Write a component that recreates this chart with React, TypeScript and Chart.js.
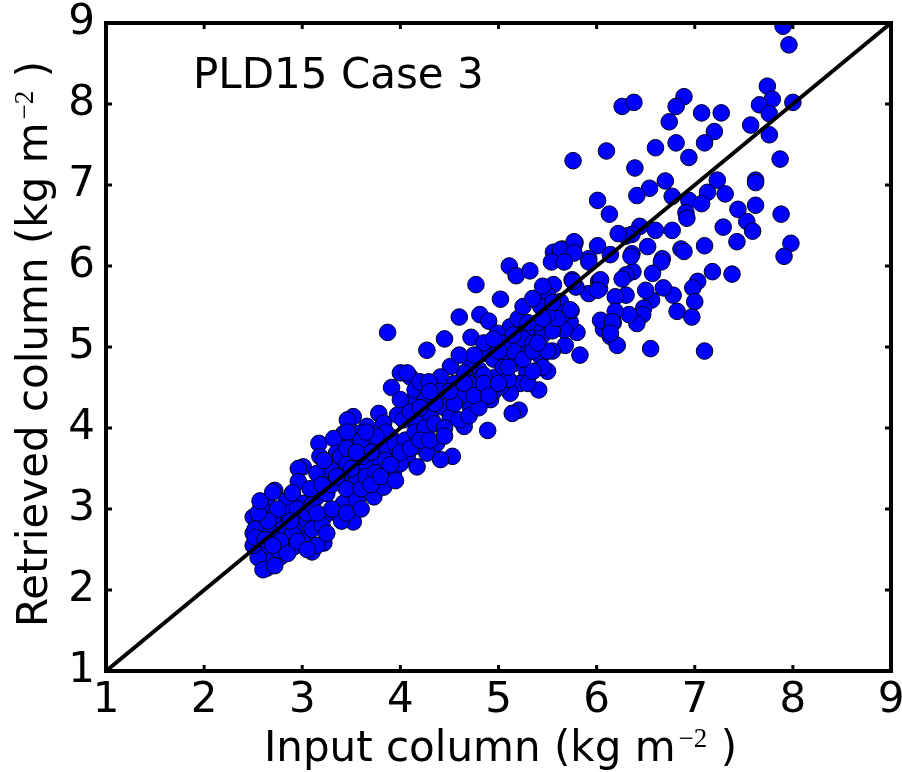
import React, { useEffect, useRef } from "react";
import { Chart, registerables } from "chart.js";

Chart.register(...registerables);

// ---- data ----
const inputColumn: number[] = [
  7.90, 7.96, 7.74, 7.79, 7.66, 8.00, 7.76, 7.57, 7.76, 7.87,
  6.26, 6.38, 6.89, 6.81, 6.74, 7.07, 7.27, 7.20, 7.10, 6.81,
  6.94, 6.60, 5.76, 6.10, 6.39, 6.70, 6.54, 6.41, 7.23, 7.62,
  7.62, 7.13, 7.31, 6.77, 6.94, 7.07, 6.91, 6.92, 6.01, 6.13,
  7.44, 7.62, 7.88, 7.53, 7.59, 7.29, 7.43, 7.98, 7.91, 6.77,
  6.60, 6.44, 6.36, 6.30, 6.22, 6.52, 6.36, 6.67, 6.86, 7.10,
  6.01, 5.78, 5.65, 5.92, 6.14,
  6.89, 7.18, 7.38, 7.03, 6.98, 7.00, 6.97, 6.82, 6.78, 6.68,
  6.66, 6.57, 6.56, 6.50, 6.48, 6.47, 6.41, 6.37, 6.35, 6.30,
  6.30, 6.26, 6.33, 6.19, 6.19, 6.17, 6.06, 6.07, 6.14, 6.21,
  6.55, 7.10, 5.83, 5.68, 5.80, 5.73, 5.74, 6.02, 6.03, 5.92,
  5.92, 5.77, 5.65, 5.75, 5.79, 5.63, 5.63,
  4.77, 5.02, 5.11, 5.18, 5.32, 4.60, 4.81, 4.90, 4.45, 4.72,
  4.27, 5.56, 5.63, 5.77, 5.77, 5.54, 5.67, 6.04, 6.01, 5.76,
  5.56, 5.50, 5.43, 5.58, 5.73, 5.67, 6.04, 6.16, 6.14, 5.36,
  5.29, 5.12, 4.99, 5.07, 5.17, 5.29, 5.43, 5.50, 5.41, 5.29,
  5.22, 5.12, 5.21, 5.02, 4.97, 4.83, 4.80, 4.88, 4.71, 4.65,
  4.51, 4.61, 4.41, 4.24, 4.10, 4.00, 4.14, 4.31, 4.48, 4.71,
  4.92, 5.14, 4.89,
  3.87, 3.91, 4.07, 4.15, 4.20, 4.29, 4.00, 3.97, 3.78, 3.52,
  3.46, 3.42, 3.17, 3.32, 3.01, 3.18, 3.35, 3.52, 3.66, 3.83,
  3.90, 4.03, 4.17, 4.31, 4.41, 4.51, 4.61, 4.65, 4.53, 4.37,
  4.27, 4.14, 4.07, 3.97, 3.80, 3.66, 3.59, 3.42, 3.25, 3.93,
  4.17, 4.41,
  2.96, 2.96, 2.72, 2.59, 2.50, 2.50, 2.54, 2.64, 2.66, 3.52,
  3.22, 3.10, 3.05, 2.91, 2.78, 2.64, 2.84, 3.00, 3.15, 3.25,
  3.12, 2.94, 2.78, 2.67, 2.55, 2.81, 3.05, 3.22, 3.35, 3.42,
  3.56, 3.73, 3.69, 3.83, 3.56, 3.39, 3.29, 3.15, 3.22, 3.39,
  3.46, 3.62, 3.73, 3.86, 3.69, 3.56, 3.46, 4.00, 3.80,
  2.52, 2.55, 2.58, 2.62, 2.70, 2.75, 2.60, 2.65, 2.58, 2.70,
  2.80, 2.90, 2.85, 2.95, 3.00, 3.10, 3.20, 3.15, 2.55, 2.50,
  2.52, 2.68, 2.78, 2.88, 2.60, 2.72, 2.62, 2.70, 2.85, 2.95,
  3.05, 2.75, 2.90, 3.08, 2.65, 2.55, 2.57, 2.70,
  3.30, 3.45, 3.60, 3.50, 3.65, 3.75, 3.85, 3.95, 4.05, 4.15,
  4.25, 4.35, 4.45, 4.55, 4.40, 4.25, 4.10, 3.85, 3.70, 3.60,
  3.45, 3.35, 3.20, 3.10,
  4.55, 4.70, 4.85, 4.95, 5.05, 5.15, 5.25, 5.35, 5.45, 5.55,
  5.60, 5.50, 5.40, 5.20, 5.05, 4.85, 4.75, 4.60, 5.10, 5.30,
  5.45, 5.55, 5.35, 4.95,
  3.05, 3.25, 3.40, 3.30, 3.45, 3.60, 3.15,
  3.70, 3.80, 3.90, 4.00, 4.10, 4.20, 3.95, 3.75, 3.65, 3.55,
  4.30, 4.45, 4.60, 4.70, 4.80, 4.35, 4.50, 4.65, 4.75, 4.85, 4.30, 4.20,
  4.90, 5.00, 5.10, 5.25, 5.35, 5.50, 5.40, 5.00, 4.95, 5.15,
  5.30, 5.45, 5.55, 5.25, 5.35, 5.45,
];

const retrievedColumn: number[] = [
  8.96, 8.73, 8.22, 8.06, 7.99, 8.02, 7.88, 7.74, 7.62, 7.32,
  7.97, 8.02, 8.09, 7.97, 7.78, 7.89, 7.89, 7.66, 7.52, 7.52,
  7.34, 7.46, 7.30, 7.42, 7.21, 7.05, 6.96, 6.87, 7.06, 7.06,
  7.03, 6.91, 6.89, 6.86, 6.81, 6.77, 6.66, 6.59, 6.81, 6.64,
  6.70, 6.75, 6.64, 6.55, 6.43, 6.48, 6.30, 6.28, 6.12, 6.44,
  6.44, 6.49, 6.39, 6.37, 6.40, 6.24, 6.15, 6.09, 6.21, 6.25,
  6.25, 6.29, 6.21, 6.09, 6.14,
  6.18, 5.93, 5.90, 5.81, 5.73, 5.56, 5.37, 5.44, 5.64, 5.73,
  6.05, 5.91, 5.58, 5.70, 5.48, 5.40, 5.29, 5.93, 6.12, 5.64,
  5.89, 5.84, 5.40, 5.62, 5.44, 5.30, 5.31, 5.22, 5.13, 5.02,
  4.98, 4.95, 4.90, 5.02, 5.18, 5.31, 5.45, 5.81, 5.72, 5.66,
  6.05, 6.26, 6.20, 5.83, 5.74, 5.56, 5.37,
  5.77, 5.59, 6.00, 5.88, 5.94, 5.37, 5.40, 5.32, 5.10, 5.12,
  4.96, 6.17, 6.20, 6.30, 6.16, 6.05, 6.05, 5.83, 5.70, 5.81,
  5.77, 5.64, 5.50, 5.44, 5.46, 5.21, 5.33, 5.31, 5.17, 5.13,
  5.21, 5.25, 5.17, 4.94, 4.80, 5.00, 4.88, 4.70, 4.47, 4.68,
  4.55, 4.43, 4.22, 4.51, 4.63, 4.45, 4.72, 4.92, 4.76, 4.68,
  4.76, 4.41, 4.63, 4.51, 4.63, 4.68, 4.35, 4.27, 4.22, 4.27,
  4.35, 4.18, 3.97,
  5.18, 4.50, 4.68, 4.47, 4.57, 4.57, 4.35, 4.16, 4.18, 4.14,
  4.10, 3.93, 3.81, 3.87, 3.52, 3.65, 3.69, 3.89, 4.02, 4.06,
  3.89, 4.10, 4.06, 4.14, 4.27, 4.14, 4.39, 4.02, 3.65, 3.81,
  3.69, 3.77, 3.65, 3.69, 3.61, 3.52, 3.73, 3.56, 3.52, 3.44,
  3.52, 3.61,
  3.50, 3.34, 3.23, 3.09, 2.90, 2.70, 2.53, 2.27, 2.31, 2.84,
  2.58, 2.47, 2.66, 2.53, 2.41, 2.45, 3.11, 3.07, 3.15, 3.19,
  2.90, 2.82, 2.86, 2.78, 2.82, 2.66, 2.86, 2.90, 2.95, 3.07,
  3.11, 3.15, 3.36, 3.27, 3.40, 3.36, 3.48, 3.44, 3.60, 3.65,
  3.56, 3.65, 3.73, 3.77, 3.85, 3.93, 3.95, 3.56, 3.56,
  2.75, 2.60, 2.45, 2.35, 2.38, 2.50, 2.95, 3.05, 3.02, 2.90,
  2.75, 2.70, 2.95, 3.00, 2.60, 2.75, 2.80, 2.55, 2.40, 2.55,
  2.65, 2.70, 2.60, 2.85, 2.25, 2.30, 2.62, 2.55, 2.45, 2.60,
  2.95, 3.00, 3.20, 3.25, 2.85, 2.95, 3.10, 3.21,
  3.30, 3.25, 3.25, 3.50, 3.40, 3.45, 3.60, 3.80, 3.85, 3.95,
  4.00, 4.05, 4.00, 4.30, 4.45, 4.35, 4.20, 3.95, 3.70, 3.85,
  3.75, 3.40, 3.30, 3.05,
  4.55, 4.55, 4.65, 4.85, 4.75, 4.95, 5.10, 5.05, 5.15, 5.20,
  5.35, 5.40, 5.30, 5.35, 5.05, 5.05, 4.90, 4.90, 4.60, 4.55,
  4.75, 4.95, 4.70, 4.45,
  2.50, 2.70, 2.85, 3.00, 2.95, 3.00, 2.95,
  3.30, 3.40, 3.55, 3.70, 3.75, 3.85, 3.35, 3.90, 3.95, 3.70,
  3.85, 3.90, 4.10, 4.15, 4.25, 4.30, 4.45, 4.55, 4.40, 4.55, 4.45, 4.25,
  4.40, 4.55, 4.75, 4.85, 4.95, 4.95, 5.05, 4.95, 5.10, 5.15,
  5.30, 5.35, 5.55, 5.50, 5.60, 5.75,
];

const oneToOneX: number[] = [1, 9];
const oneToOneY: number[] = [1, 9];
const axisTicks: number[] = [1, 2, 3, 4, 5, 6, 7, 8, 9];
const xTitleMain = "Input column (kg m";
const yTitleMain = "Retrieved column (kg m";
const unitExponent = "\u22122";
const titleClose = " )";
const panelLabel = "PLD15 Case 3";
const panelLabelAt = { x: 1.887, y: 8.2 };

const SANS = "'DejaVu Sans', sans-serif";
const MAIN_FONT = `42px ${SANS}`;
const SUP_FONT = `27px 'Liberation Serif', serif`;

function drawUnitTitle(ctx: CanvasRenderingContext2D, cx: number, baseline: number, main: string) {
  ctx.font = MAIN_FONT;
  const w1 = ctx.measureText(main).width;
  const w3 = ctx.measureText(titleClose).width;
  ctx.font = SUP_FONT;
  const w2 = ctx.measureText(unitExponent).width;
  const gap = 3;
  const total = w1 + gap + w2 + w3;
  let x = cx - total / 2;
  ctx.textAlign = "left";
  ctx.textBaseline = "alphabetic";
  ctx.font = MAIN_FONT;
  ctx.fillText(main, x, baseline);
  x += w1 + gap;
  ctx.font = SUP_FONT;
  ctx.fillText(unitExponent, x, baseline - 14);
  x += w2;
  ctx.font = MAIN_FONT;
  ctx.fillText(titleClose, x, baseline);
}

const decorPlugin = {
  id: "decor",
  afterDraw(chart: any) {
    const { ctx, chartArea: a, scales } = chart;
    const xs = scales.x;
    const ys = scales.y;
    ctx.save();
    ctx.strokeStyle = "#000";
    ctx.lineWidth = 3;
    ctx.lineCap = "butt";
    const tl = 6;
    ctx.beginPath();
    for (const v of axisTicks) {
      const px = xs.getPixelForValue(v);
      const py = ys.getPixelForValue(v);
      ctx.moveTo(px, a.bottom);
      ctx.lineTo(px, a.bottom - tl);
      ctx.moveTo(px, a.top);
      ctx.lineTo(px, a.top + tl);
      ctx.moveTo(a.left, py);
      ctx.lineTo(a.left + tl, py);
      ctx.moveTo(a.right, py);
      ctx.lineTo(a.right - tl, py);
    }
    ctx.stroke();
    ctx.lineWidth = 4;
    ctx.lineJoin = "miter";
    ctx.strokeRect(a.left, a.top, a.right - a.left, a.bottom - a.top);

    ctx.fillStyle = "#000";
    ctx.font = MAIN_FONT;
    ctx.textAlign = "left";
    ctx.textBaseline = "alphabetic";
    ctx.fillText(panelLabel, xs.getPixelForValue(panelLabelAt.x), ys.getPixelForValue(panelLabelAt.y));

    // x axis title
    drawUnitTitle(ctx, (a.left + a.right) / 2 + 2, 761, xTitleMain);
    // y axis title
    ctx.save();
    ctx.translate(47, (a.top + a.bottom) / 2 - 3);
    ctx.rotate(-Math.PI / 2);
    drawUnitTitle(ctx, 0, 0, yTitleMain);
    ctx.restore();
    ctx.restore();
  },
};

export default function App() {
  const canvasRef = useRef<HTMLCanvasElement | null>(null);

  useEffect(() => {
    const canvas = canvasRef.current;
    if (!canvas) return;
    const points = inputColumn.map((x, i) => ({ x, y: retrievedColumn[i] }));
    const line = oneToOneX.map((x, i) => ({ x, y: oneToOneY[i] }));
    const tickFont = { family: SANS, size: 42 };
    const chart = new Chart(canvas, {
      type: "scatter",
      data: {
        datasets: [
          {
            data: line,
            showLine: true,
            borderColor: "#000",
            borderWidth: 4,
            pointRadius: 0,
            clip: 0,
          } as any,
          {
            data: points,
            showLine: false,
            backgroundColor: "#0000ff",
            borderColor: "#000020",
            borderWidth: 1,
            pointRadius: 8.3,
            clip: 0,
          } as any,
        ],
      },
      options: {
        responsive: false,
        animation: false,
        devicePixelRatio: 1,
        events: [],
        layout: { padding: { top: 23, right: 11, left: 0, bottom: 0 } },
        plugins: {
          legend: { display: false },
          tooltip: { enabled: false },
          title: { display: false },
        },
        scales: {
          x: {
            type: "linear",
            position: "bottom",
            min: 1,
            max: 9,
            grid: { display: false, drawTicks: false },
            border: { display: false },
            ticks: {
              color: "#000",
              font: tickFont,
              padding: 5,
              maxRotation: 0,
              autoSkip: false,
            },
            afterBuildTicks: (s: any) => {
              s.ticks = axisTicks.map((v) => ({ value: v }));
            },
            afterFit: (s: any) => {
              s.height = 101;
              s.paddingLeft = 0;
              s.paddingRight = 0;
            },
          },
          y: {
            type: "linear",
            position: "left",
            min: 1,
            max: 9,
            grid: { display: false, drawTicks: false },
            border: { display: false },
            ticks: {
              color: "#000",
              font: tickFont,
              padding: 11,
              autoSkip: false,
            },
            afterBuildTicks: (s: any) => {
              s.ticks = axisTicks.map((v) => ({ value: v }));
            },
            afterFit: (s: any) => {
              s.width = 106;
              s.paddingTop = 0;
              s.paddingBottom = 0;
            },
          },
        },
      } as any,
      plugins: [decorPlugin],
    });
    return () => chart.destroy();
  }, []);

  return (
    <div style={{ position: "absolute", left: 0, top: 0, width: 902, height: 772, background: "#fff" }}>
      <canvas ref={canvasRef} width={902} height={772} style={{ display: "block", width: 902, height: 772 }} />
    </div>
  );
}
